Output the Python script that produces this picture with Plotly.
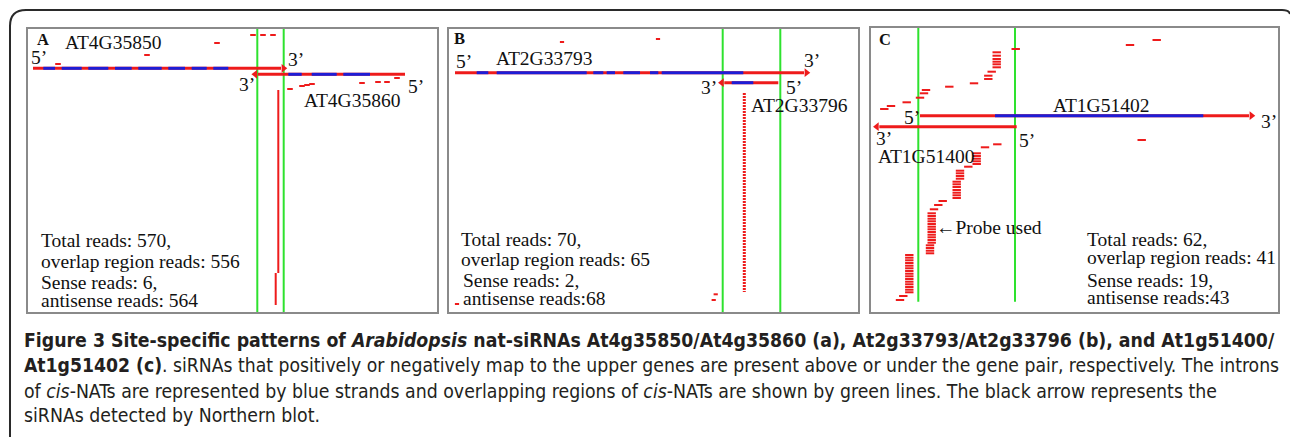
import plotly.graph_objects as go

# ------------------------------------------------------------------
# DATA (panel-local coordinates; 1 unit = 1 px)
# ------------------------------------------------------------------
# Panel A : AT4G35850 / AT4G35860
A_overlap = [229.3, 255.7]
A_up_gene = [5, 259, 39.3]            # start, arrow tip, row
A_up_introns = [(15.3, 27), (33.7, 53.7), (60.3, 80.3), (87, 103.7), (110.3, 133.7),
                (140.3, 157), (163.7, 178.7), (185.3, 200.3)]
A_dn_gene = [377, 223.7, 45.3]
A_dn_introns = [(260.3, 273.7), (283.7, 308.7), (315.3, 342)]
A_read_x = [225, 235, 245, 189, 119, 30, 262, 274, 279, 284, 334, 350, 359, 369]
A_read_y = [6, 6, 6, 14, 26, 35, 60, 57, 56, 55, 54, 53, 53, 49]
A_stack_x = [250.3, 247.7]
A_stack_top = [61, 244]
A_stack_bottom = [244, 276]

# Panel B : AT2G33793 / AT2G33796
B_overlap = [273.7, 331.3]
B_up_gene = [6, 361, 43.7]
B_up_introns = [(27.7, 39.3), (47.7, 137.7), (144.3, 154.3), (157.7, 166), (174.3, 191),
                (201, 209.3), (212.7, 294.3)]
B_dn_gene = [329.3, 269.3, 53.7]
B_dn_introns = [(282.7, 304.3)]
B_read_x = [113, 209, 266.7, 264.7, 8]
B_read_y = [13, 10, 265.3, 271, 275]
B_stack_x = [295.3]
B_stack_top = [64]
B_stack_bottom = [263]

# Panel C : AT1G51402 / AT1G51400
C_overlap = [47.3, 144]
C_overlap_end = 273.7
C_up_gene = [49, 384, 87.7]
C_up_introns = [(124, 332.3)]
C_dn_gene = [145.7, 2.3, 98.7]
C_dn_introns = []
C_sense_x = [144.7, 125.7, 125.7, 125.7, 125.7, 125.7, 125.7, 120.7, 117.3, 117.3, 103,
             78.3, 55, 53, 49, 35.7, 20, 13.3, 259, 285.7]
C_sense_y = [21, 24.3, 27.7, 31, 33.7, 36.3, 39.3, 43.7, 47.7, 51, 55.3,
             58.7, 62, 65.3, 69.7, 74.3, 78, 81, 17, 12]
C_anti_x = [270.7, 126.3, 114, 105.7, 105.7, 105.7, 105.7, 105.7, 97.3,
            89, 89, 89, 89, 85.7, 85.7, 85.7, 85.7, 85.7, 85.7, 85.7,
            71.7, 67.3, 63,
            60.7, 60.7, 60.7, 60.7, 60.7, 60.7, 60.7, 60.7, 60.7, 60.7, 60.7, 60.7, 59, 59, 59, 59,
            38.3, 38.3, 38.3, 38.3, 38.3, 38.3, 38.3, 38.3, 38.3, 38.3, 38.3, 38.3, 38.3, 38.3, 38.3,
            32.3, 29]
C_anti_y = [112, 116.3, 119.3, 125.3, 128, 130.7, 133.3, 136, 138.7,
            142.7, 145.3, 148, 150.7, 153.7, 156.3, 159, 162, 164.7, 167.3, 170,
            173, 177, 181.3,
            185.3, 188, 190.7, 193.3, 196, 198.7, 201.3, 204, 206.7, 209.3, 212, 214.7, 217.3, 220, 222.7, 225.3,
            227, 229.7, 232.3, 235, 237.7, 240.3, 243, 245.7, 248.3, 251, 253.7, 256.3, 259, 261.7, 264.3,
            268, 272]

# Texts
A_labels = ["AT4G35850", "5’", "3’", "3’", "5’", "AT4G35860"]
A_stats = ["Total reads: 570,", "overlap region reads: 556", "Sense reads: 6,", "antisense reads: 564"]
B_labels = ["5’", "AT2G33793", "3’", "3’", "5’", "AT2G33796"]
B_stats = ["Total reads: 70,", "overlap region reads: 65", "Sense reads: 2,", "antisense reads:68"]
C_labels = ["5’", "AT1G51402", "3’", "3’", "5’", "AT1G51400", "<b>←</b>Probe used"]
C_stats = ["Total reads: 62,", "overlap region reads: 41", "Sense reads: 19,", "antisense reads:43"]
caption = [
    "<b>Figure 3 Site-specific patterns of <i>Arabidopsis</i> nat-siRNAs At4g35850/At4g35860 (a), "
    "At2g33793/At2g33796 (b), and At1g51400/</b>",
    "<b>At1g51402 (c)</b>. siRNAs that positively or negatively map to the upper genes are present above "
    "or under the gene pair, respectively. The introns",
    "of <i>cis</i>-NATs are represented by blue strands and overlapping regions of <i>cis</i>-NATs are "
    "shown by green lines. The black arrow represents the",
    "siRNAs detected by Northern blot.",
]

# ------------------------------------------------------------------
# LAYOUT
# ------------------------------------------------------------------
W, H = 1290, 437
BOX = {"A": (28, 29, 437, 312), "B": (449, 29, 858, 312), "C": (871, 28, 1278, 312)}
AX = {"A": ("x", "y"), "B": ("x2", "y2"), "C": ("x3", "y3")}
RED, BLUE, GREEN = "#ee1b1b", "#1d1dd6", "#2ee22e"
SERIF = "Liberation Serif, Times New Roman, serif"
CAPFONT = "Liberation Sans Narrow, Arial Narrow, DejaVu Sans Condensed, Open Sans, sans-serif"

fig = go.Figure()


def line(p, xs, ys, color, width, dash=None):
    xa, ya = AX[p]
    fig.add_trace(go.Scatter(x=xs, y=ys, mode="lines", xaxis=xa, yaxis=ya,
                             line=dict(color=color, width=width, dash=dash),
                             hoverinfo="skip", showlegend=False))


def dashes(p, xs, ys, size, width=2):
    xa, ya = AX[p]
    fig.add_trace(go.Scatter(x=xs, y=ys, mode="markers", xaxis=xa, yaxis=ya,
                             marker=dict(symbol="line-ew", size=size,
                                         line=dict(color=RED, width=width)),
                             hoverinfo="skip", showlegend=False))


def gene(p, g, introns, width=3):
    start, tip, y = g
    d = 1 if tip > start else -1
    head = 6
    line(p, [start, tip - d * head], [y, y], RED, width)
    for a, b in introns:
        line(p, [a, b], [y, y], BLUE, width)
    xa, ya = AX[p]
    fig.add_trace(go.Scatter(x=[tip - d * 3.5], y=[y], mode="markers", xaxis=xa, yaxis=ya,
                             marker=dict(symbol="triangle-right" if d > 0 else "triangle-left",
                                         size=7.5, color=RED, line=dict(width=0)),
                             hoverinfo="skip", showlegend=False))


# Panel A
for xg in A_overlap:
    line("A", [xg, xg], [0, BOX["A"][3] - BOX["A"][1]], GREEN, 2)
gene("A", A_up_gene, A_up_introns)
gene("A", A_dn_gene, A_dn_introns)
for xs, t, b in zip(A_stack_x, A_stack_top, A_stack_bottom):
    line("A", [xs, xs], [t, b], RED, 2)
dashes("A", A_read_x, A_read_y, 4)

# Panel B
for xg in B_overlap:
    line("B", [xg, xg], [0, BOX["B"][3] - BOX["B"][1]], GREEN, 2)
gene("B", B_up_gene, B_up_introns)
gene("B", B_dn_gene, B_dn_introns)
for xs, t, b in zip(B_stack_x, B_stack_top, B_stack_bottom):
    line("B", [xs, xs], [t, b], RED, 3, dash="2px,1px")
dashes("B", B_read_x, B_read_y, 3)

# Panel C
for xg in C_overlap:
    line("C", [xg, xg], [0, C_overlap_end], GREEN, 2)
gene("C", C_up_gene, C_up_introns)
gene("C", C_dn_gene, C_dn_introns)
dashes("C", C_sense_x, C_sense_y, 6)
dashes("C", C_anti_x, C_anti_y, 6)

# Axes for the three panels
for p, (xa, ya) in AX.items():
    l, t, r, b = BOX[p]
    common = dict(showgrid=False, zeroline=False, showticklabels=False, ticks="",
                  showline=True, mirror=True, linecolor="#8a8a8a", linewidth=1.5, fixedrange=True)
    xkey = "xaxis" if xa == "x" else "xaxis" + xa[1:]
    ykey = "yaxis" if ya == "y" else "yaxis" + ya[1:]
    fig.update_layout(**{
        xkey: dict(domain=[l / W, r / W], range=[0, r - l], anchor=ya, **common),
        ykey: dict(domain=[1 - b / H, 1 - t / H], range=[b - t, 0], anchor=xa, **common),
    })

annots = []


def text(p, s, x, y, size=19.5, bold=False):
    xa, ya = AX[p]
    annots.append(dict(text=("<b>%s</b>" % s) if bold else s, x=x, y=y, xref=xa, yref=ya,
                       xanchor="left", yanchor="middle", showarrow=False,
                       font=dict(family=SERIF, size=size, color="#111111")))


text("A", "A", 7, 10, size=16.5, bold=True)
for s, (x, y) in zip(A_labels, [(35, 13), (1, 28), (258, 30), (209, 55), (378, 57), (274, 71)]):
    text("A", s, x, y)
for s, (x, y) in zip(A_stats, [(11, 211.7), (11, 232.5), (11, 253.3), (11, 271)]):
    text("A", s, x, y)

text("B", "B", 3, 9, size=16.5, bold=True)
for s, (x, y) in zip(B_labels, [(5, 32), (45, 29), (353, 31), (250, 58), (335, 58), (300, 76)]):
    text("B", s, x, y)
for s, (x, y) in zip(B_stats, [(10, 210), (10, 230), (11.5, 251.7), (11.5, 269.3)]):
    text("B", s, x, y)

text("C", "C", 5.5, 11, size=16.5, bold=True)
for s, (x, y) in zip(C_labels, [(30.7, 89), (179.7, 77), (388, 93), (3, 110), (145.7, 112),
                                 (4.7, 128.7), (63, 199.5)]):
    text("C", s, x, y)
for s, (x, y) in zip(C_stats, [(213.7, 211), (213.7, 229.3), (213.7, 252.7), (213.7, 269.3)]):
    text("C", s, x, y)

for s, yc, fs in zip(caption, [340, 365, 391, 415], [19.3, 19.2, 19.3, 19.3]):
    annots.append(dict(text=s, x=22 / W, y=1 - yc / H, xref="paper", yref="paper",
                       xanchor="left", yanchor="middle", showarrow=False,
                       font=dict(family=CAPFONT, size=fs, color="#231f20")))


def P(x, y):
    return "%.5f,%.5f" % (x / W, 1 - y / H)


frame = ("M " + P(10, 437) + " L " + P(10, 26) + " Q " + P(10, 10) + " " + P(26, 10) +
         " L " + P(1282, 10) + " Q " + P(1289, 10) + " " + P(1290, 14))

fig.update_layout(
    width=W, height=H, margin=dict(l=0, r=0, t=0, b=0, pad=0),
    paper_bgcolor="white", plot_bgcolor="white",
    annotations=annots,
    shapes=[dict(type="path", path=frame, xref="paper", yref="paper",
                 line=dict(color="#2a2a2a", width=2))],
)

fig.write_html("out.html", config={"displayModeBar": False},
               post_script="document.body.style.margin='0px';")
